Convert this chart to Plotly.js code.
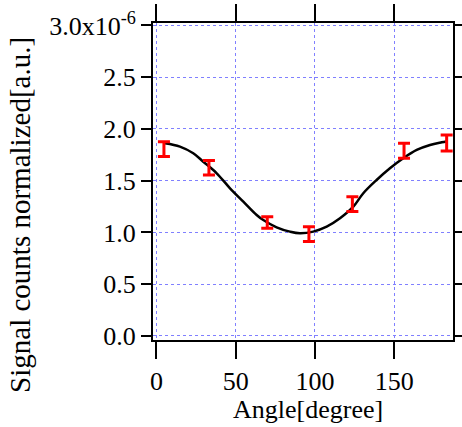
<!DOCTYPE html>
<html>
<head>
<meta charset="utf-8">
<script src="https://cdn.plot.ly/plotly-3.0.1.min.js"></script>
<style>html,body{margin:0;padding:0;background:#fff;}#chart{width:462px;height:427px;}</style>
</head>
<body>
<div id="chart"></div>
<script>
// Measured data points (angle in degrees, normalized signal counts in units of 1e-6)
const angle = [4.7, 33.1, 69.9, 96.2, 123.6, 156.2, 183.1];
const signal = [1.805, 1.625, 1.097, 0.984, 1.274, 1.789, 1.865];
const signalErr = [0.072, 0.070, 0.056, 0.072, 0.072, 0.072, 0.077];

// Fitted curve
const fitAngle = [5.4, 14.8, 23.2, 29.5, 38.0, 46.4, 54.8, 63.2, 67.4, 75.8, 84.2, 90.5, 98.9, 107.4, 115.8, 124.2, 130.5, 138.9, 147.3, 155.7, 164.2, 172.6, 180.0, 183.0];
const fitSignal = [1.862, 1.829, 1.765, 1.684, 1.572, 1.427, 1.298, 1.169, 1.120, 1.050, 1.008, 0.992, 1.008, 1.056, 1.137, 1.249, 1.379, 1.507, 1.620, 1.717, 1.797, 1.845, 1.871, 1.880];

const yTickVals = [0, 0.5, 1.0, 1.5, 2.0, 2.5, 3.0];
const yTickText = ["0.0", "0.5", "1.0", "1.5", "2.0", "2.5", "3.0x10<sup>-6</sup>"];
const xTickVals = [0, 50, 100, 150];
const xTickText = ["0", "50", "100", "150"];

const xTitle = "Angle[degree]";
const yTitle = "Signal counts normalized[a.u.]";

const font = "Liberation Serif";

const traces = [
  {
    x: fitAngle, y: fitSignal, mode: "lines", type: "scatter",
    line: {color: "#000000", width: 2.5, shape: "spline"},
    hoverinfo: "skip", showlegend: false
  },
  {
    x: angle, y: signal, mode: "markers", type: "scatter",
    marker: {size: 1, color: "rgba(255,0,0,0)"},
    error_y: {type: "data", array: signalErr, visible: true, color: "#ff0000", thickness: 3, width: 6},
    showlegend: false
  }
];

const layout = {
  width: 462, height: 427,
  margin: {l: 153, r: 9, t: 23, b: 87},
  paper_bgcolor: "#ffffff", plot_bgcolor: "#ffffff",
  font: {family: font, size: 26, color: "#000000"},
  showlegend: false,
  xaxis: {
    range: [-2.2, 187.1],
    tickvals: xTickVals, ticktext: xTickText,
    ticks: "outside", ticklen: 17, tickwidth: 2, tickcolor: "#000",
    showline: true, linecolor: "#000", linewidth: 2, mirror: "allticks",
    showgrid: true, gridcolor: "#8080ff", griddash: "dot", gridwidth: 1,
    zeroline: false,
    tickfont: {family: font, size: 26, color: "#000"}
  },
  yaxis: {
    range: [-0.039, 3.024],
    tickvals: yTickVals, ticktext: yTickText,
    ticks: "outside", ticklen: 10, tickwidth: 2, tickcolor: "#000",
    showline: true, linecolor: "#000", linewidth: 2, mirror: "allticks",
    showgrid: true, gridcolor: "#8080ff", griddash: "dot", gridwidth: 1,
    zeroline: false,
    tickfont: {family: font, size: 26, color: "#000"}
  },
  annotations: [
    {text: xTitle, xref: "paper", yref: "paper", x: 0.517, y: -0.218, xanchor: "center", yanchor: "middle", showarrow: false, font: {family: font, size: 26, color: "#000"}},
    {text: yTitle, xref: "paper", yref: "paper", x: -0.443, y: 0.395, xanchor: "center", yanchor: "middle", textangle: -90, showarrow: false, font: {family: font, size: 29, color: "#000"}}
  ]
};

Plotly.newPlot("chart", traces, layout, {displayModeBar: false, staticPlot: true});
</script>
</body>
</html>
